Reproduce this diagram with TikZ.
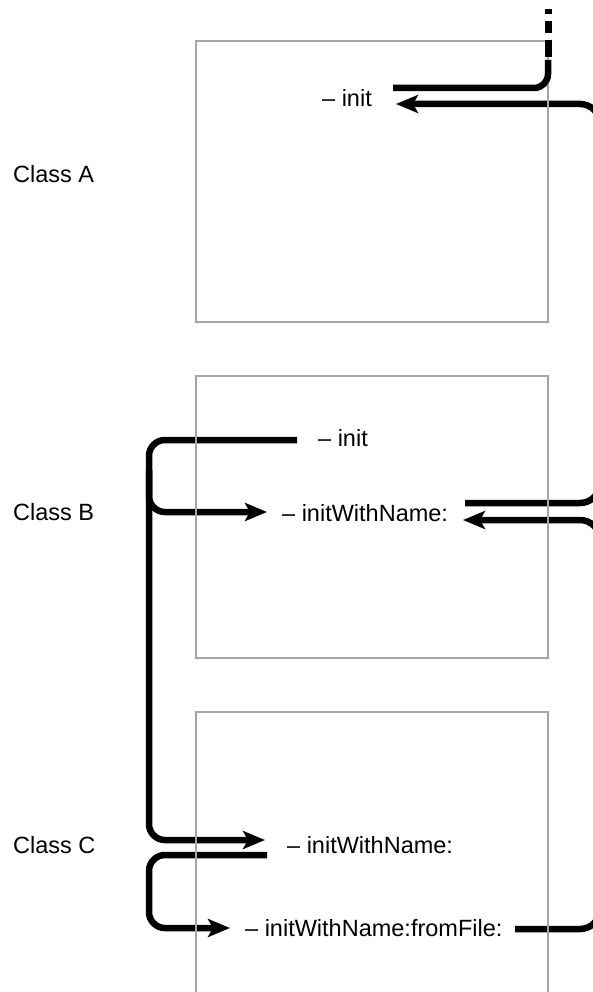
\documentclass[tikz,border=0pt]{standalone}
\usepackage{fontspec}
\setmainfont{Liberation Sans}
\usetikzlibrary{arrows.meta}
\definecolor{boxgray}{HTML}{A6A6A6}
\begin{document}
\begin{tikzpicture}[x=1pt,y=-1pt,
  classbox/.style={draw=boxgray, line width=2.5pt},
  conn/.style={line width=6.5pt, rounded corners=20pt},
  lbl/.style={font=\fontsize{23.5}{28}\selectfont, inner sep=0pt, anchor=base west},
  tipend/.style={-{Stealth[length=22pt,width=18pt,inset=5pt]}}]
\useasboundingbox (0,0) rectangle (593,992);
\clip (0,0) rectangle (593,992);
% labels
\node[lbl] (ca) at (13,183) {Class A};
\node[lbl] (cb) at (13,520) {Class B};
\node[lbl] (cc) at (13,853) {Class C};
\node[lbl] (ainit) at (322,107) {– init};
\node[lbl] (binit) at (318,446) {– init};
\node[lbl] (bname) at (282,521) {– initWithName:};
\node[lbl] (cname) at (287,853) {– initWithName:};
\node[lbl] (cfile) at (245,936) {– initWithName:fromFile:};
% connector ends
\coordinate (a1) at (393,88);
\coordinate (a2) at (396,104);
\coordinate (b0) at (297,440);
\coordinate (b1) at (465,503);
\coordinate (b2) at (463,520);
\coordinate (b3) at (267,512);
\coordinate (c1) at (265,840);
\coordinate (c2) at (267,855);
\coordinate (c3) at (230,928);
\coordinate (c4) at (515,929);
\coordinate (top) at (548,60);
% connectors
\draw[conn,tipend] (b1) -- (600,503) -- (600,104) -- (a2);
\draw[conn,tipend] (c4) -- (600,929) -- (600,520) -- (b2);
\draw[conn,tipend,rounded corners=16pt] (b0) -- (149,440) -- (149,840) -- (c1);
\draw[conn,tipend,rounded corners=16pt] (149,470) |- (b3);
\draw[conn,tipend,rounded corners=16pt] (c2) -- (149,855) -- (149,928) -- (c3);
% class boxes
\draw[classbox] (196,41) rectangle (548,322);
\draw[classbox] (196,376) rectangle (548,658);
\draw[classbox] (196,712) rectangle (548,1000);
% incoming call from above
\draw[line width=7pt] (548,9) -- (548,14) (548,21) -- (548,33) (548,40) -- (548,57);
\draw[conn,rounded corners=14pt] (top) |- (a1);
\end{tikzpicture}
\end{document}
